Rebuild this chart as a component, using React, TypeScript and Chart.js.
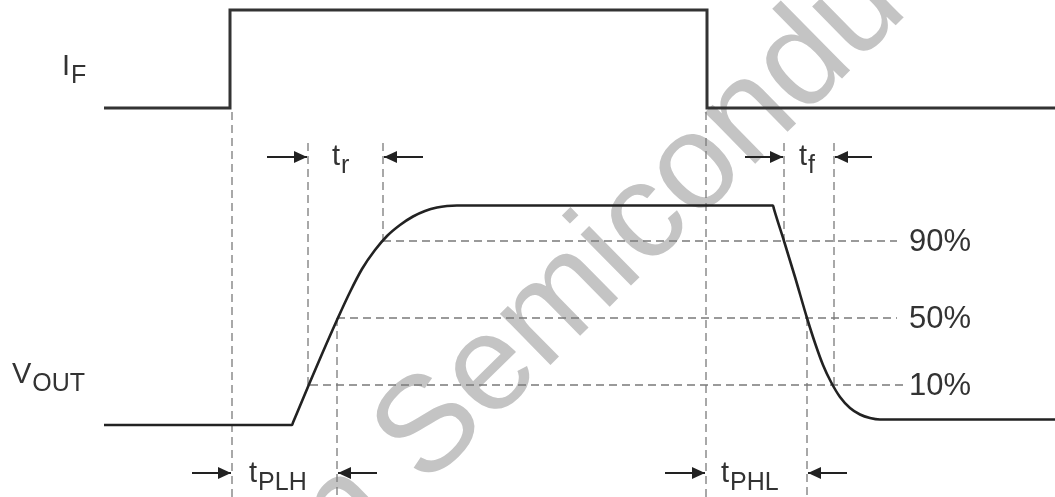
import React, { useEffect, useRef } from 'react';
import { Chart, registerables } from 'chart.js';

Chart.register(...registerables);

// ---- data (horizontal: time units, vertical: drawing level units, top = 0) ----
const ifTime = [104, 230, 230, 707, 707, 1055];
const ifLevel = [108, 108, 10, 10, 108, 108];

const voutTime = [104, 292, 293, 310, 322, 337, 350, 362, 375, 387, 400, 413, 425, 437, 447, 457, 773, 774, 784, 795, 807, 815, 823, 831, 840, 850, 860, 870, 880, 1055];
const voutLevel = [425, 425, 422.6, 382, 354, 320, 292, 269, 250, 236, 225, 216.5, 211, 207.5, 206, 205.5, 205.5, 209.2, 241, 277, 318, 343, 365, 382, 397, 408, 414.5, 418, 419.5, 419.5];

const markerTime = [232, 308, 383, 337, 706, 784, 834, 807];
const markerTop = [112, 143, 143, 318, 112, 143, 143, 318];
const markerBottom = [497, 385, 241, 497, 497, 241, 387, 497];

const thresholdLabels = ['90%', '50%', '10%'];
const thresholdLevel = [241, 318, 385];
const thresholdStart = [383, 337, 310];
const thresholdEnd = [897, 897, 903];
const thresholdLabelTime = [909, 909, 909];

const arrowTip = [307, 384, 783, 835, 231, 338, 705, 808];
const arrowTail = [267, 423, 745, 872, 192, 377, 665, 847];
const arrowLevel = [157, 157, 157, 157, 473, 473, 473, 473];

const labelMain = ['I', 'V', 't', 't', 't', 't'];
const labelSub = ['F', 'OUT', 'r', 'f', 'PLH', 'PHL'];
const labelTime = [62, 12, 332, 799, 249, 721];
const labelLevel = [75, 383, 165, 165, 482, 482];

const watermarkPrefix = 'on';
const watermarkText = 'Semiconductor';
const watermarkTime = 425;
const watermarkLevel = 488;

const FONT = '"Liberation Sans", Arial, Helvetica, sans-serif';
const INK = '#333333';

const annotate = {
  id: 'annotate',
  beforeDatasetsDraw(chart: any) {
    const { ctx, scales } = chart;
    const x = scales.x;
    const y = scales.y;
    ctx.save();
    ctx.translate(x.getPixelForValue(watermarkTime), y.getPixelForValue(watermarkLevel));
    ctx.rotate((-44.5 * Math.PI) / 180);
    ctx.font = `136px ${FONT}`;
    ctx.fillStyle = '#c4c4c4';
    ctx.textBaseline = 'alphabetic';
    ctx.textAlign = 'left';
    ctx.fillText(watermarkText, 0, 0);
    ctx.textAlign = 'right';
    ctx.fillText(watermarkPrefix + ' ', 0, 0);
    ctx.restore();
  },
  afterDatasetsDraw(chart: any) {
    const { ctx, scales } = chart;
    const x = scales.x;
    const y = scales.y;
    ctx.save();
    // arrowheads
    ctx.fillStyle = '#222222';
    arrowTip.forEach((tip, i) => {
      const px = x.getPixelForValue(tip);
      const tail = x.getPixelForValue(arrowTail[i]);
      const py = y.getPixelForValue(arrowLevel[i]);
      const dir = Math.sign(px - tail);
      ctx.beginPath();
      ctx.moveTo(px, py);
      ctx.lineTo(px - dir * 13, py - 6);
      ctx.lineTo(px - dir * 13, py + 6);
      ctx.closePath();
      ctx.fill();
    });
    // threshold labels
    ctx.fillStyle = INK;
    ctx.textBaseline = 'middle';
    ctx.textAlign = 'left';
    ctx.font = `31px ${FONT}`;
    thresholdLabels.forEach((t, i) => {
      ctx.fillText(t, x.getPixelForValue(thresholdLabelTime[i]), y.getPixelForValue(thresholdLevel[i]) + 1);
    });
    // signal / timing labels with subscripts
    ctx.textBaseline = 'alphabetic';
    labelMain.forEach((m, i) => {
      const px = x.getPixelForValue(labelTime[i]);
      const py = y.getPixelForValue(labelLevel[i]);
      ctx.font = `29px ${FONT}`;
      ctx.fillText(m, px, py);
      const w = ctx.measureText(m).width;
      ctx.font = `25px ${FONT}`;
      ctx.fillText(labelSub[i], px + w + 1, py + 8);
    });
    ctx.restore();
  },
};

function pts(xs: number[], ys: number[]) {
  return xs.map((v, i) => ({ x: v, y: ys[i] }));
}

export default function App() {
  const ref = useRef<HTMLCanvasElement | null>(null);
  useEffect(() => {
    if (!ref.current) return;
    const dash = { borderColor: '#7a7a7a', borderWidth: 1.3, borderDash: [8, 5], pointRadius: 0, tension: 0, fill: false };
    const datasets: any[] = [];
    datasets.push({ label: 'IF', data: pts(ifTime, ifLevel), borderColor: '#333333', borderWidth: 3, pointRadius: 0, tension: 0, fill: false });
    datasets.push({ label: 'VOUT', data: pts(voutTime, voutLevel), borderColor: '#222222', borderWidth: 2.6, pointRadius: 0, cubicInterpolationMode: 'monotone', fill: false });
    markerTime.forEach((t, i) => {
      datasets.push({ ...dash, label: 'm' + i, data: [{ x: t, y: markerTop[i] }, { x: t, y: markerBottom[i] }] });
    });
    thresholdLevel.forEach((l, i) => {
      datasets.push({ ...dash, label: 't' + i, data: [{ x: thresholdStart[i], y: l }, { x: thresholdEnd[i], y: l }] });
    });
    arrowTip.forEach((tip, i) => {
      datasets.push({ label: 'a' + i, data: [{ x: arrowTail[i], y: arrowLevel[i] }, { x: tip, y: arrowLevel[i] }], borderColor: '#222222', borderWidth: 2, pointRadius: 0, tension: 0, fill: false });
    });
    const chart = new Chart(ref.current, {
      type: 'line',
      data: { datasets },
      options: {
        responsive: false,
        animation: false,
        devicePixelRatio: 1,
        layout: { padding: 0 },
        scales: {
          x: { type: 'linear', min: 0, max: 1055, display: false },
          y: { type: 'linear', min: 0, max: 497, reverse: true, display: false },
        },
        plugins: { legend: { display: false }, tooltip: { enabled: false } },
      },
      plugins: [annotate],
    } as any);
    return () => chart.destroy();
  }, []);
  return (
    <div style={{ position: 'fixed', left: 0, top: 0, width: 1055, height: 497, background: '#ffffff' }}>
      <canvas ref={ref} width={1055} height={497} />
    </div>
  );
}
